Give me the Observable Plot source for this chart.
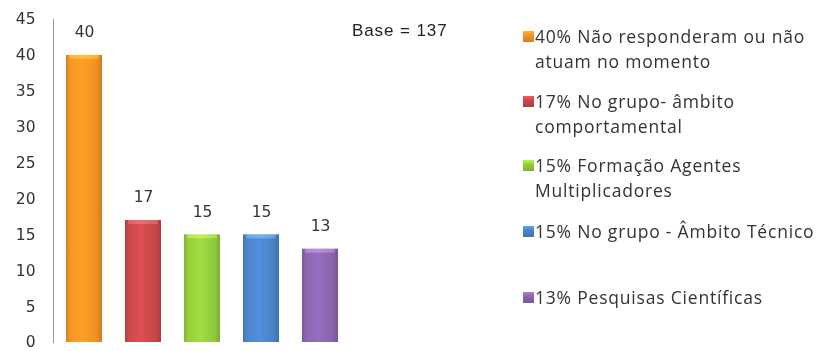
<!DOCTYPE html>
<html>
<head>
<meta charset="utf-8">
<script src="https://cdn.jsdelivr.net/npm/d3@7"></script>
<script src="https://cdn.jsdelivr.net/npm/@observablehq/plot@0.6"></script>
<style>
  html, body { margin: 0; padding: 0; background: #fff; }
  #wrap { position: relative; width: 817px; height: 351px; overflow: hidden; }
  #chart { position: absolute; left: 0; top: 0; }
  .base { position: absolute; left: 352px; top: 21px; font: 17px "Liberation Sans", Arial, sans-serif; letter-spacing: 0.9px; color: #222; }
  .legend { position: absolute; left: 523px; top: 0; font: 17.5px "Open Sans", "Liberation Sans", sans-serif; letter-spacing: 0.8px; color: #333; }
  .item { position: absolute; left: 0; white-space: nowrap; line-height: 25px; }
  .sw { position: absolute; left: 0; top: 7px; width: 11px; height: 11px; }
  .txt { margin-left: 12px; }
</style>
</head>
<body>
<div id="wrap"><div id="chart"></div><div class="base">Base = 137</div><div class="legend" id="legend"></div></div>
<script>
const categories = ["Não responderam ou não atuam no momento", "No grupo- âmbito comportamental", "Formação Agentes Multiplicadores", "No grupo - Âmbito Técnico", "Pesquisas Científicas"];
const values = [40, 17, 15, 15, 13];
const legendLines = [
  ["40% Não responderam ou não", "atuam no momento"],
  ["17% No grupo- âmbito", "comportamental"],
  ["15% Formação Agentes", "Multiplicadores"],
  ["15% No grupo - Âmbito Técnico"],
  ["13% Pesquisas Científicas"]
];
const colors = ["#F39324", "#C9474A", "#93CC3C", "#4A84C8", "#8A65AE"];
const yTicks = [0, 5, 10, 15, 20, 25, 30, 35, 40, 45];

const data = categories.map((c, i) => ({category: c, value: values[i]}));

function shade(c, k) { const col = d3.color(c); return (k > 0 ? col.brighter(k) : col.darker(-k)).formatHex(); }

const defs = () => {
  const ns = "http://www.w3.org/2000/svg";
  const d = document.createElementNS(ns, "defs");
  colors.forEach((c, i) => {
    const g = document.createElementNS(ns, "linearGradient");
    g.setAttribute("id", "grad" + i);
    g.setAttribute("x1", "0"); g.setAttribute("x2", "1"); g.setAttribute("y1", "0"); g.setAttribute("y2", "0");
    [[0, shade(c, -0.35)], [0.12, shade(c, 0.05)], [0.45, shade(c, 0.25)], [0.85, shade(c, -0.05)], [1, shade(c, -0.45)]].forEach(([o, col]) => {
      const s = document.createElementNS(ns, "stop");
      s.setAttribute("offset", o); s.setAttribute("stop-color", col);
      g.appendChild(s);
    });
    d.appendChild(g);
  });
  return d;
};

const plot = Plot.plot({
  width: 817,
  height: 351,
  marginLeft: 53,
  marginRight: 467,
  marginTop: 19,
  marginBottom: 9,
  style: {fontFamily: "'DejaVu Sans', Verdana, sans-serif", fontSize: "15.5px", color: "#333"},
  x: {domain: categories, paddingInner: 0.39, paddingOuter: 0.2, axis: null},
  y: {domain: [0, 45], ticks: yTicks, tickSize: 0, tickPadding: 18, label: null},
  color: {domain: categories, range: colors.map((c, i) => `url(#grad${i})`)},
  marks: [
    defs,
    Plot.barY(data, {x: "category", y: "value", fill: "category"}),
    Plot.rectY(data, {x: "category", y1: (d) => d.value - 0.55, y2: "value", fill: (d) => d.category, insetLeft: 3, insetRight: 3, fillOpacity: 0.55, mixBlendMode: "screen"}),
    Plot.frame({anchor: "left", stroke: "#999"}),
    Plot.text(data, {x: "category", y: "value", text: (d) => String(d.value), dy: -23, fontSize: 15.5, fill: "#333"})
  ]
});
document.getElementById("chart").appendChild(plot);

const legend = document.getElementById("legend");
const tops = [24, 89, 153, 219, 285];
legendLines.forEach((lines, i) => {
  const item = document.createElement("div");
  item.className = "item";
  item.style.top = tops[i] + "px";
  const sw = document.createElement("div");
  sw.className = "sw";
  sw.style.background = `linear-gradient(to bottom, ${shade(colors[i], 0.6)}, ${colors[i]} 40%, ${shade(colors[i], -0.4)})`;
  item.appendChild(sw);
  lines.forEach((l) => {
    const t = document.createElement("div");
    t.className = "txt";
    t.textContent = l;
    item.appendChild(t);
  });
  legend.appendChild(item);
});
</script>
</body>
</html>
